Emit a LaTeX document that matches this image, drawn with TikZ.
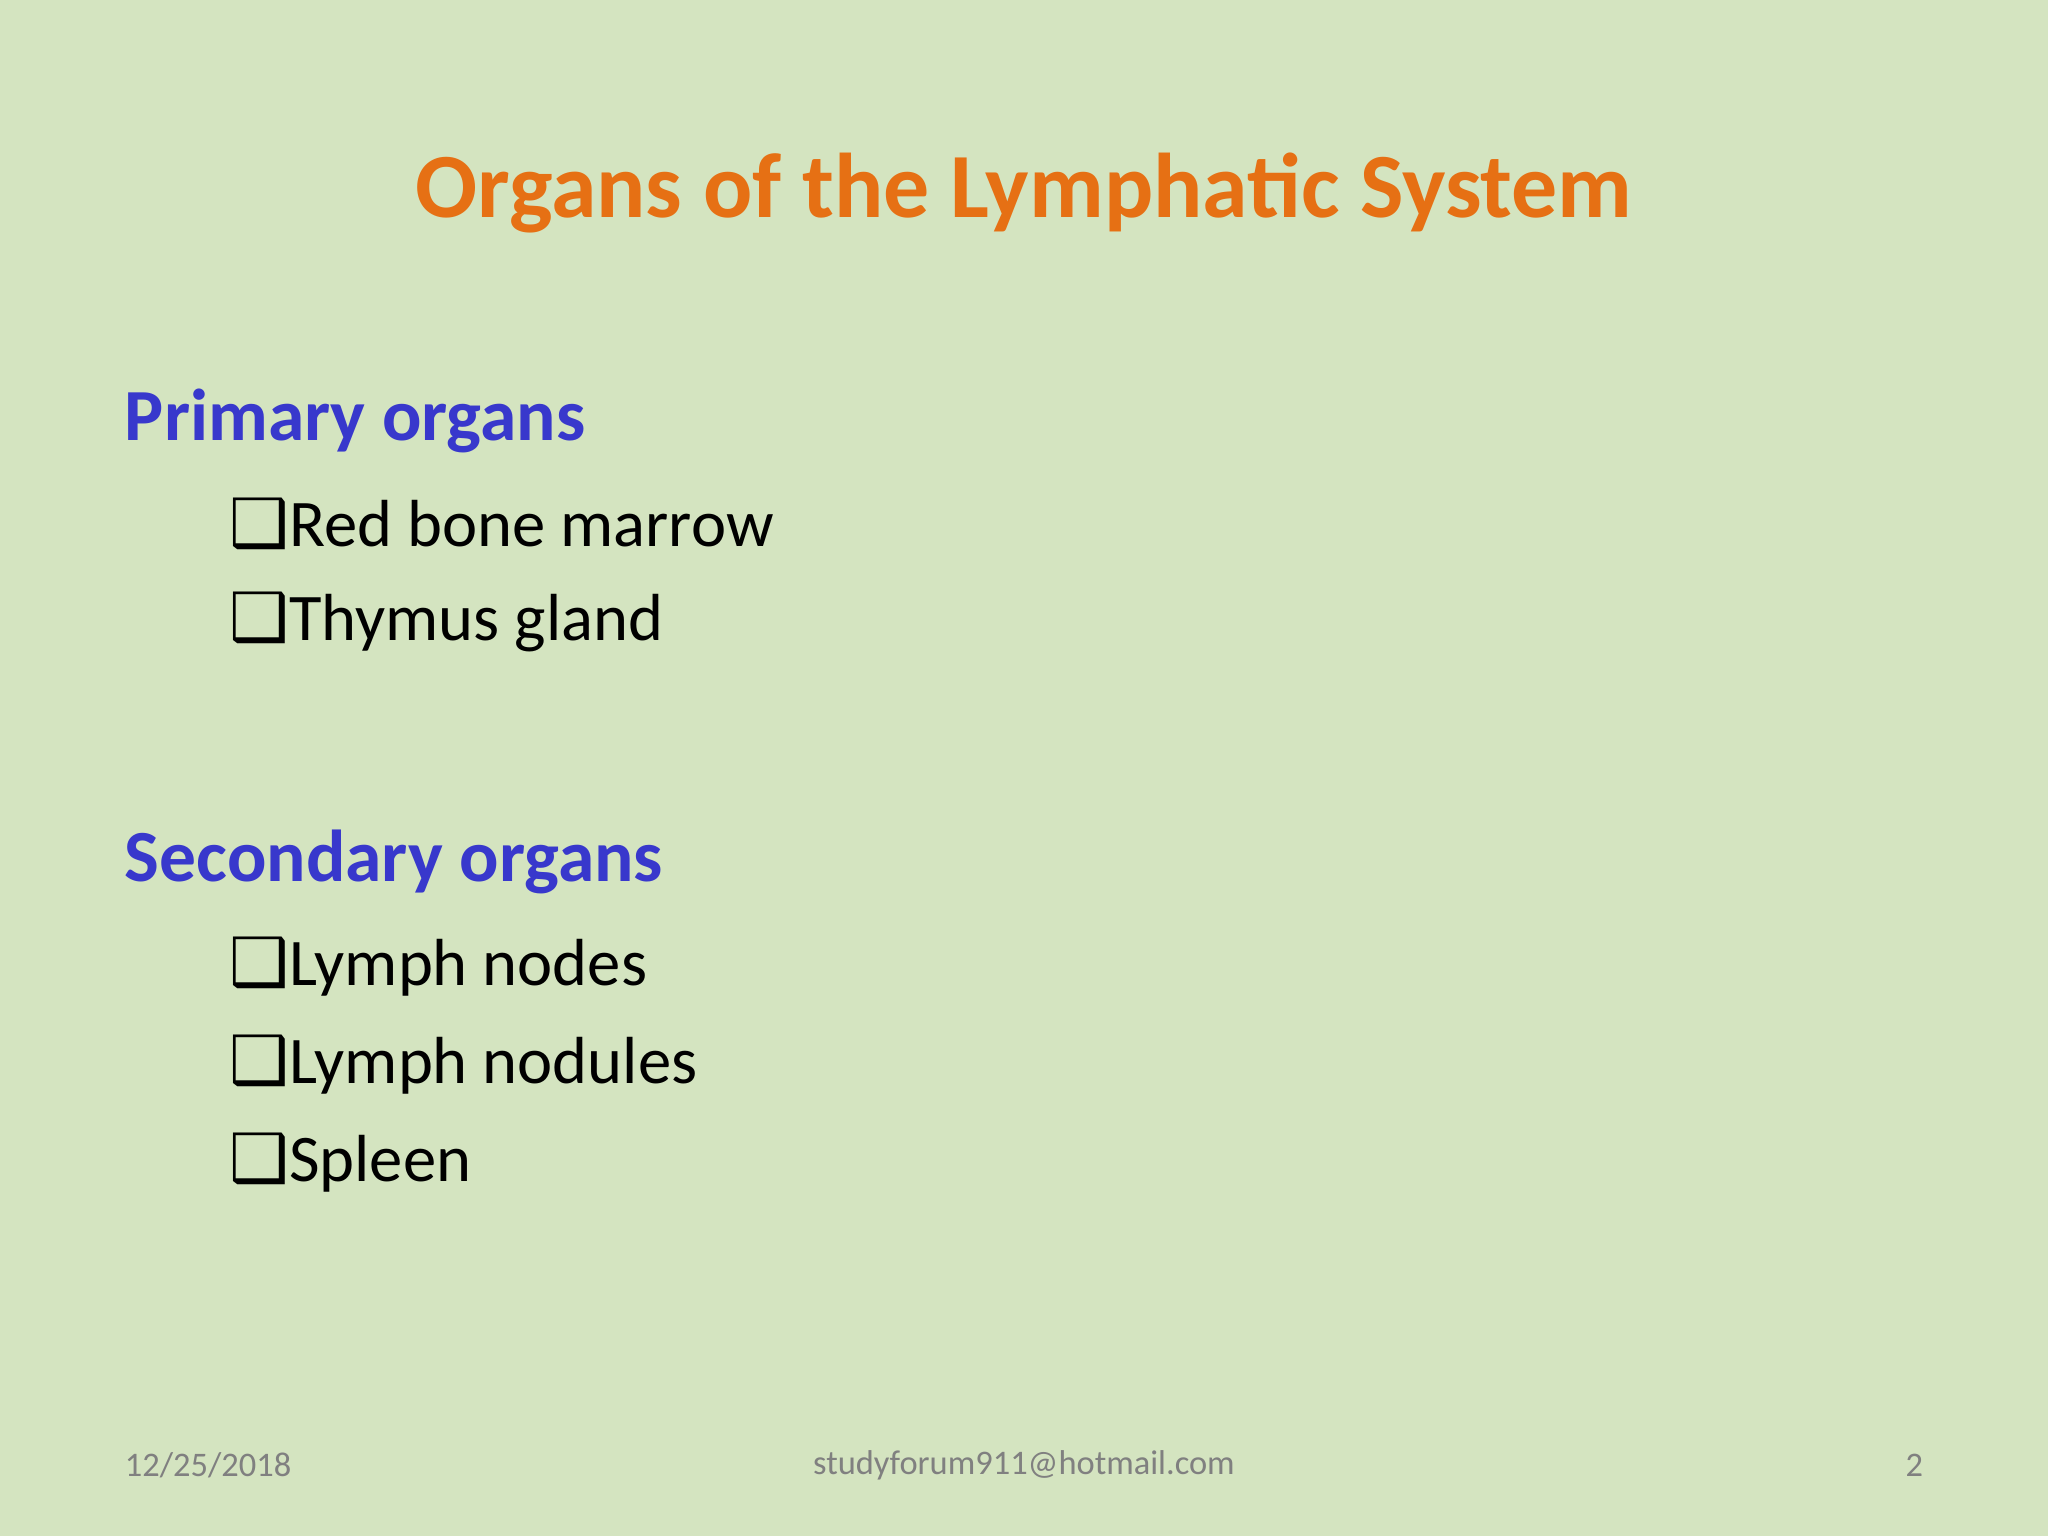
\documentclass[tikz,border=0pt]{standalone}
\usepackage{fontspec}
\setmainfont{Carlito}
\newfontfamily\symfont{DejaVu Sans}
\usetikzlibrary{positioning}
\definecolor{slidebg}{RGB}{212,228,192}
\definecolor{titleorange}{RGB}{230,112,20}
\definecolor{headblue}{RGB}{56,56,204}
\definecolor{footgray}{RGB}{128,128,128}
\tikzset{heading/.style={anchor=west,inner sep=0pt,text=headblue,font=\fontsize{16}{19}\selectfont\bfseries},
  item/.style={anchor=west,inner sep=0pt,font=\fontsize{14.5}{17}\selectfont},
  foot/.style={inner sep=0pt,text=footgray,font=\fontsize{7.5}{9}\selectfont}}
\newcommand{\boxbullet}{{\symfont\char"2751}}
\begin{document}
\begin{tikzpicture}[x=0.01cm,y=-0.01cm]
\fill[slidebg] (0,0) rectangle (1568,1176);
\useasboundingbox (0,0) rectangle (1568,1176);
\node[inner sep=0pt,text=titleorange,font=\fontsize{20}{24}\selectfont\bfseries] (title) at (784,148) {Organs of the Lymphatic System};
\node[heading] (prim) at (95,322) {Primary organs};
\node[item] (marrow) at (175,401) {\boxbullet Red bone marrow};
\node[item] (thymus) at (175,476) {\boxbullet Thymus gland};
\node[heading] (sec) at (95,660) {Secondary organs};
\node[item] (nodes) at (175,740) {\boxbullet Lymph nodes};
\node[item] (nodules) at (175,815) {\boxbullet Lymph nodules};
\node[item] (spleen) at (175,890) {\boxbullet Spleen};
\node[foot,anchor=west] (date) at (95,1122) {12/25/2018};
\node[foot] (mail) at (784,1122) {studyforum911@hotmail.com};
\node[foot,anchor=east] (page) at (1473,1122) {2};
\end{tikzpicture}
\end{document}
